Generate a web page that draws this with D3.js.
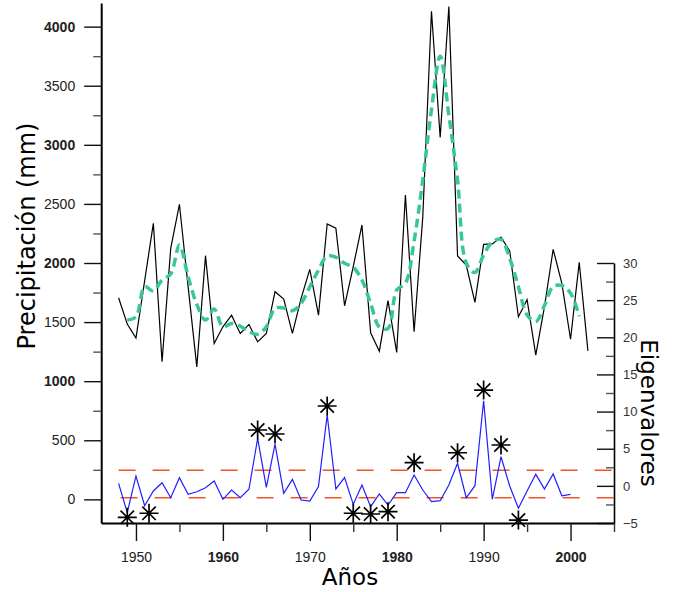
<!DOCTYPE html>
<meta charset="utf-8">
<style>
body { margin: 0; background: #fff; }
.tick text { font-family: "Liberation Sans", Arial, sans-serif; font-size: 14px; fill: #222; }
.titulo { font-family: "DejaVu Sans", sans-serif; font-size: 23px; fill: #000; }
.precip { fill: none; stroke: #000; stroke-width: 1.2px; }
.suave { fill: none; stroke: #38c993; stroke-width: 3.5px; stroke-dasharray: 9,5; }
.eigen { fill: none; stroke: #1f1fff; stroke-width: 1.2px; }
.umbral { stroke: #ee5528; stroke-width: 1.5px; stroke-dasharray: 17,17; }
.asterisco { fill: none; stroke: #000; stroke-width: 1.7px; }
</style>
<body>
<script src="https://cdn.jsdelivr.net/npm/d3@7"></script>
<script>

// años y precipitación anual (mm)
var anios = d3.range(1948, 2003);
var precipitacion = [1706, 1483, 1364, 1850, 2336, 1164, 2124, 2497, 1800, 1121,
  2062, 1319, 1460, 1559, 1404, 1480, 1333, 1404, 1757, 1695,
  1404, 1701, 1946, 1559, 2331, 2294, 1638, 1969, 2322, 1410,
  1254, 1681, 1243, 2576, 1418, 2390, 4130, 3062, 4170, 2059,
  1983, 1667, 2158, 2161, 2218, 2102, 1545, 1690, 1220, 1630,
  2116, 1828, 1355, 2005, 1256];

// curva suavizada (1949-2001)
var aniosSuave = d3.range(1949, 2002);
var suavizada = [1517, 1545, 1800, 1763, 1856, 1907, 2153, 1884, 1650, 1517,
  1610, 1460, 1489, 1466, 1418, 1398, 1460, 1616, 1620, 1596,
  1658, 1799, 1941, 2059, 2048, 1997, 1963, 1856, 1658, 1460,
  1446, 1771, 1828, 2186, 2703, 3297, 3749, 3250, 2700, 2000,
  1920, 2068, 2178, 2200, 2040, 1800, 1560, 1505, 1640, 1800,
  1810, 1745, 1550];

// eigenvalores (1948-2000)
var aniosEigen = d3.range(1948, 2001);
var eigenvalores = [0.34, -3.6, 1.33, -2.67, -0.69, 0.42, -1.6, 1.1, -1.14, -0.79,
  -0.25, 0.65, -1.81, -0.56, -1.6, -0.46, 6.4, -0.2, 5.63, -1.0,
  0.88, -1.9, -2.04, -0.11, 9.54, -0.42, 1.12, -2.5, 0.11, -2.8,
  -1.1, -2.58, -0.92, -0.92, 1.46, -0.56, -2.13, -2.0, 0.11, 3.04,
  -1.6, 0.02, 11.46, -1.81, 3.92, -0.02, -3.02, -0.69, 1.55, -0.42,
  1.6, -1.33, -1.14];

// asteriscos (eventos)
var eventosAnio = [1949, 1951.5, 1964, 1966, 1972, 1975, 1977, 1979, 1982, 1987, 1990, 1992, 1994];
var eventosValor = [-4.23, -3.69, 7.52, 6.98, 10.75, -3.69, -3.79, -3.48, 3.12, 4.46, 12.9, 5.5, -4.6];

// umbrales
var umbrales = [2.1, -1.6];

var ticksPrecip = d3.range(0, 4001, 500);
var ticksAnio = d3.range(1950, 2001, 10);
var ticksEigen = d3.range(-5, 31, 5);

var width = 674, height = 592;

var x = d3.scaleLinear().domain([1946, 2005]).range([101.2, 614]);
var yP = d3.scaleLinear().domain([-200, 4200]).range([523, 3]);
var yE = d3.scaleLinear().domain([-5, 30]).range([523, 263]);

var svg = d3.select("body").append("svg")
    .attr("width", width)
    .attr("height", height);

// lineas de umbral
svg.selectAll(".umbral")
    .data(umbrales)
  .enter().append("line")
    .attr("class", "umbral")
    .attr("x1", function(d, i) { return x(1948) + i * 2; })
    .attr("x2", x(2005))
    .attr("y1", function(d) { return yE(d); })
    .attr("y2", function(d) { return yE(d); });

// eigenvalores
var lineaE = d3.line()
    .x(function(d, i) { return x(aniosEigen[i]); })
    .y(function(d) { return yE(d); });

svg.append("path")
    .attr("class", "eigen")
    .attr("d", lineaE(eigenvalores));

// precipitacion
var lineaP = d3.line()
    .x(function(d, i) { return x(anios[i]); })
    .y(function(d) { return yP(d); });

svg.append("path")
    .attr("class", "precip")
    .attr("d", lineaP(precipitacion));

var lineaS = d3.line()
    .curve(d3.curveCatmullRom.alpha(0.5))
    .x(function(d, i) { return x(aniosSuave[i]); })
    .y(function(d) { return yP(d); });

svg.append("path")
    .attr("class", "suave")
    .attr("d", lineaS(suavizada));

// asteriscos
var r = 9.5, a = r * 0.7071;
var asterisco = "M0," + (-r) + "L0," + r + "M" + (-r) + ",0L" + r + ",0" +
  "M" + (-a) + "," + (-a) + "L" + a + "," + a + "M" + (-a) + "," + a + "L" + a + "," + (-a);

svg.selectAll(".asterisco")
    .data(eventosAnio)
  .enter().append("path")
    .attr("class", "asterisco")
    .attr("d", asterisco)
    .attr("transform", function(d, i) {
      return "translate(" + x(d) + "," + yE(eventosValor[i]) + ")";
    });

// ejes
function estiloEje(g, ancho) {
  g.select(".domain").attr("stroke", "#000").attr("stroke-width", ancho);
  g.selectAll(".tick line").attr("stroke", "#111").attr("stroke-width", 1.4);
}

// eje izquierdo
var ejeIzq = svg.append("g")
    .attr("transform", "translate(" + x(1946) + ",0)")
    .call(d3.axisLeft(yP).tickValues(ticksPrecip).tickSize(17).tickSizeOuter(0).tickPadding(9).tickFormat(d3.format("d")));
estiloEje(ejeIzq, 2);
ejeIzq.selectAll(".tick text")
    .style("font-weight", function(d) { return d > 0 && d % 1000 == 0 ? "bold" : "normal"; });

svg.append("g")
    .attr("transform", "translate(" + x(1946) + ",0)")
    .call(d3.axisLeft(yP).tickValues(d3.range(250, 4200, 500)).tickSize(8).tickFormat(""))
    .call(function(g) {
      g.select(".domain").remove();
      g.selectAll(".tick line").attr("stroke", "#555").attr("stroke-width", 1.4);
    });

// eje derecho
var ejeDer = svg.append("g")
    .attr("transform", "translate(" + x(2005) + ",0)")
    .call(d3.axisRight(yE).tickValues(ticksEigen).tickSizeInner(-17).tickSizeOuter(0).tickPadding(9));
estiloEje(ejeDer, 1.6);
ejeDer.selectAll(".tick text").style("font-size", "13px").style("fill", "#333");

svg.append("g")
    .attr("transform", "translate(" + x(2005) + ",0)")
    .call(d3.axisRight(yE).tickValues(d3.range(-2.5, 30, 5)).tickSizeInner(-8).tickSizeOuter(0).tickFormat(""))
    .call(function(g) {
      g.select(".domain").remove();
      g.selectAll(".tick line").attr("stroke", "#555").attr("stroke-width", 1.4);
    });

// eje inferior
var ejeX = svg.append("g")
    .attr("transform", "translate(0," + yP(-200) + ")")
    .call(d3.axisBottom(x).tickValues(ticksAnio).tickSize(18).tickSizeOuter(0).tickPadding(11).tickFormat(d3.format("d")));
estiloEje(ejeX, 2.2);
ejeX.selectAll(".tick text")
    .style("font-weight", function(d) { return d % 20 == 0 ? "bold" : "normal"; });

svg.append("g")
    .attr("transform", "translate(0," + yP(-200) + ")")
    .call(d3.axisBottom(x).tickValues(d3.range(1955, 2006, 10)).tickSize(9).tickFormat(""))
    .call(function(g) {
      g.select(".domain").remove();
      g.selectAll(".tick line").attr("stroke", "#333").attr("stroke-width", 1.4);
    });

// titulos
svg.append("text")
    .attr("class", "titulo")
    .attr("text-anchor", "middle")
    .attr("transform", "translate(35,236) rotate(-90)")
    .style("font-size", "24px")
    .text("Precipitación (mm)");

svg.append("text")
    .attr("class", "titulo")
    .attr("text-anchor", "middle")
    .attr("x", 350)
    .attr("y", 585)
    .text("Años");

svg.append("text")
    .attr("class", "titulo")
    .attr("text-anchor", "middle")
    .attr("transform", "translate(641,413) rotate(90)")
    .text("Eigenvalores");

</script>
</body>
